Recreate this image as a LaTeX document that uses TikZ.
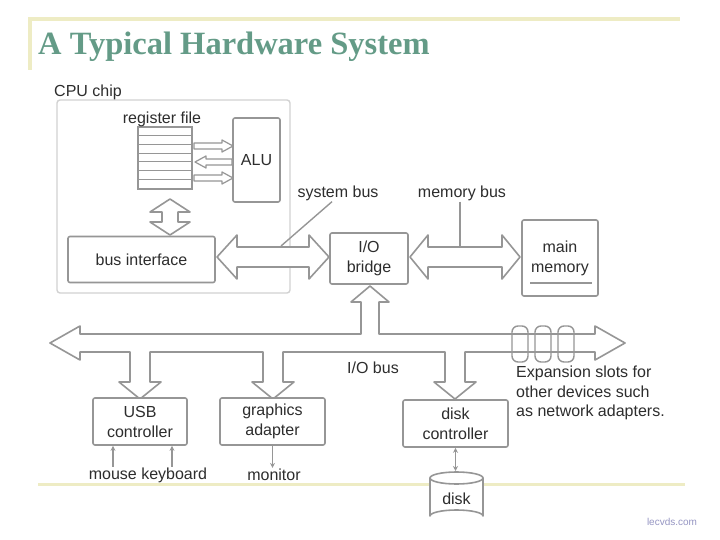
\documentclass[tikz,border=0pt]{standalone}
\usepackage{fontspec}
\setmainfont{Liberation Sans}
\newfontfamily\titlefont{Liberation Serif}
\usetikzlibrary{arrows.meta}
\definecolor{ln}{RGB}{150,150,150}
\definecolor{chipln}{RGB}{210,210,210}
\definecolor{ttl}{RGB}{100,155,135}
\definecolor{yel}{RGB}{238,236,196}
\definecolor{txt}{RGB}{45,45,45}
\definecolor{wm}{RGB}{150,150,195}
\begin{document}
\begin{tikzpicture}[x=1pt,y=-1pt,
  box/.style={draw=ln, line width=1.6pt, rounded corners=2pt, fill=white, inner sep=0pt, align=center, text=txt, font=\fontsize{16}{20}\selectfont},
  lbl/.style={text=txt, font=\fontsize{16}{20}\selectfont, inner sep=1pt},
  blk/.style={draw=ln, line width=1.6pt, fill=white, line join=round},
  conn/.style={draw=ln, line width=1.4pt},
  tip/.style={{Stealth[length=5pt,width=5pt]}-}]
\useasboundingbox (0,0) rectangle (720,540);
\fill[white] (0,0) rectangle (720,540);
% slide decorations
\draw[yel, line width=3.5pt] (30,70) -- (30,19) -- (680,19);
\draw[yel, line width=3pt] (38,484) -- (685,484);
\node[anchor=base west, inner sep=0pt, text=ttl, font=\titlefont\bfseries\fontsize{32.5}{36}\selectfont] (title) at (38,55) {A Typical Hardware System};
% CPU chip
\node[draw=chipln, line width=1.4pt, rounded corners=3pt, minimum width=233pt, minimum height=193pt, inner sep=0pt] (chip) at (173.5,196.5) {};
\node[lbl, anchor=west] (chiplbl) at (53,92) {CPU chip};
% register file
\node[draw=ln, line width=1.4pt, fill=white, minimum width=54pt, minimum height=62pt, inner sep=0pt] (reg) at (165,158) {};
\foreach \yy in {135.75,144.5,153.25,162,170.75,179.5}
  \draw[ln, line width=1pt] (138,\yy) -- (192,\yy);
\node[lbl] (reglbl) at (162,119) {register file};
% ALU
\node[box, minimum width=47pt, minimum height=84pt] (alu) at (256.5,160) {ALU};
% register <-> ALU arrows
\filldraw[blk, line width=1.2pt] (194,143) -- (222,143) -- (222,140) -- (233,146) -- (222,152) -- (222,149) -- (194,149) -- cycle;
\filldraw[blk, line width=1.2pt] (232,159) -- (206,159) -- (206,156) -- (195,162) -- (206,168) -- (206,165) -- (232,165) -- cycle;
\filldraw[blk, line width=1.2pt] (194,175) -- (222,175) -- (222,172) -- (233,178) -- (222,184) -- (222,181) -- (194,181) -- cycle;
% bus interface
\node[box, minimum width=147pt, minimum height=46pt] (busif) at (141.5,259.5) {bus interface};
% register file <-> bus interface
\filldraw[blk] (170,199) -- (190,212) -- (178,212) -- (178,222) -- (190,222) -- (170,235) -- (150,222) -- (162,222) -- (162,212) -- (150,212) -- cycle;
% I/O bridge and main memory
\node[box, minimum width=78pt, minimum height=51pt] (bridge) at (369,258.5) {I/O\\bridge};
\node[box, minimum width=76pt, minimum height=76pt] (mem) at (560,258) {main\\memory};
\draw[conn] (530,283) -- (592,283);
% system bus
\filldraw[blk] (217,257) -- (237,235) -- (237,247) -- (309,247) -- (309,235) -- (329,257) -- (309,279) -- (309,267) -- (237,267) -- (237,279) -- cycle;
% memory bus
\filldraw[blk] (410,257) -- (428,235) -- (428,247) -- (502,247) -- (502,235) -- (520,257) -- (502,279) -- (502,267) -- (428,267) -- (428,279) -- cycle;
\node[lbl] (sysbus) at (338,193) {system bus};
\node[lbl] (membus) at (462,193) {memory bus};
\coordinate (sysend) at (281,246);
\coordinate (memend) at (460,246);
\draw[conn] ([xshift=-6pt]sysbus.south) -- (sysend);
\draw[conn] (membus.south -| memend) -- (memend);
% I/O bus with branches
\filldraw[blk] (50,343) -- (80,326) -- (80,334) -- (361,334) -- (361,302) -- (351,302) -- (370,286) -- (389,302) -- (379,302) -- (379,334) -- (595,334) -- (595,326) -- (625,343) -- (595,360) -- (595,352)
  -- (465,352) -- (465,382) -- (476,382) -- (455,399) -- (434,382) -- (445,382) -- (445,352)
  -- (283,352) -- (283,382) -- (294,382) -- (273,399) -- (252,382) -- (263,382) -- (263,352)
  -- (150,352) -- (150,382) -- (161,382) -- (140,399) -- (119,382) -- (130,382) -- (130,352)
  -- (80,352) -- (80,360) -- cycle;
% expansion slots
\foreach \xx in {520,543,566}
  \draw[ln, line width=1.4pt, rounded corners=6pt] (\xx-8,326) rectangle (\xx+8,362);
\node[lbl] (iobus) at (373,368) {I/O bus};
\node[lbl, anchor=north west, align=left, font=\fontsize{16}{19.5}\selectfont] (exp) at (515,365) {Expansion slots for\\other devices such\\as network adapters.};
% controllers
\node[box, minimum width=94pt, minimum height=47pt] (usb) at (140,421.5) {USB\\controller};
\node[box, minimum width=105pt, minimum height=47pt] (gfx) at (272.5,421.5) {graphics\\adapter};
\node[box, minimum width=105pt, minimum height=47pt] (diskc) at (455.5,423.5) {disk\\controller};
% peripherals
\node[lbl] (mk) at (148,475) {mouse keyboard};
\node[lbl] (mon) at (274,475) {monitor};
\coordinate (m1) at (113,467);
\coordinate (k1) at (172,467);
\draw[conn, tip] (usb.south -| m1) -- (m1);
\draw[conn, tip] (usb.south -| k1) -- (k1);
\draw[conn, -{Stealth[length=5pt,width=5pt]}] (gfx.south) -- (gfx.south |- mon.north);
% disk
\filldraw[blk] (430,478) -- (430,516) arc[start angle=180, end angle=360, x radius=26.5, y radius=6] -- (483,478) arc[start angle=0, end angle=180, x radius=26.5, y radius=6] -- cycle;
\draw[ln, line width=1.6pt] (430,478) arc[start angle=180, end angle=360, x radius=26.5, y radius=6];
\node[lbl] (disk) at (456.5,499) {disk};
\coordinate (disktop) at (455.5,471);
\draw[conn, {Stealth[length=5pt,width=5pt]}-{Stealth[length=5pt,width=5pt]}] (diskc.south) -- (disktop);
% watermark
\node[text=wm, font=\fontsize{10}{12}\selectfont] (wmark) at (672,522) {lecvds.com};
\end{tikzpicture}
\end{document}
